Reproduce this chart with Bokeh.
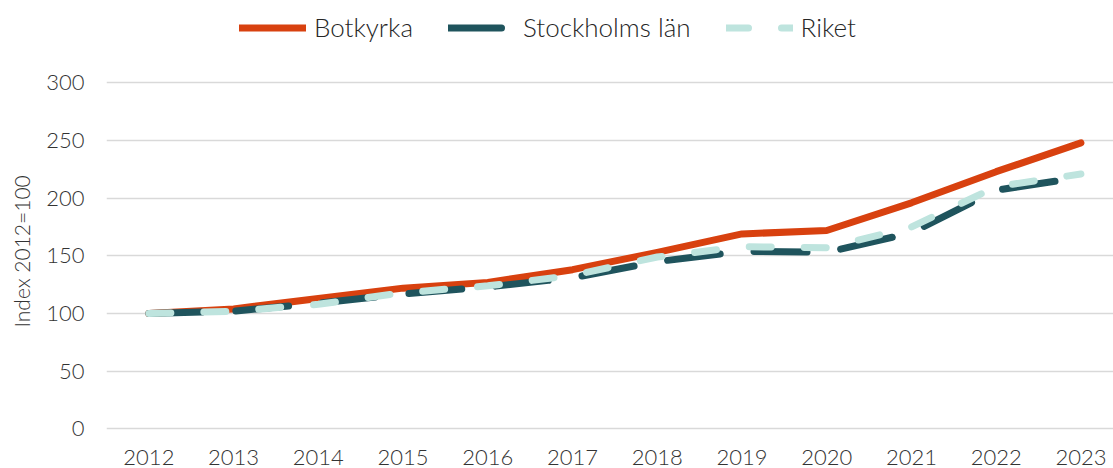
from bokeh.plotting import figure
from bokeh.models import Range1d, FixedTicker, Legend, LegendItem, ColumnDataSource, Title
from bokeh.core.properties import value
from bokeh.embed import file_html
from bokeh.resources import INLINE

years = [2012, 2013, 2014, 2015, 2016, 2017, 2018, 2019, 2020, 2021, 2022, 2023]
botkyrka = [100, 104, 113, 122, 127, 138, 153, 169, 172, 196, 223, 248]
stockholms_lan = [100, 102, 109, 117, 123, 131, 145, 154, 153, 170, 207, 218]
riket = [100, 102, 108, 118, 124, 133, 149, 158, 157, 175, 210, 221]
year_labels = [str(y) for y in years]
y_ticks = [0, 50, 100, 150, 200, 250, 300]
series_names = ["Botkyrka", "Stockholms län", "Riket"]
y_label = "Index 2012=100"

c_bot = "#D8410F"
c_sth = "#1F545D"
c_rik = "#BEE4DE"
grid_c = "#D9D9D9"
txt_c = "#333333"
FONT = "Lato Light, Lato"

# layout (pixels)
W, H = 1113, 468
frame_left = 104
y0_px, y300_px = 428.3, 82.4          # screen rows of the 0 and 300 gridlines
px_per_unit = (y0_px - y300_px) / 300.0
step_px = 84.9                        # pixel distance between years
label_row = 456.5                     # screen row of year labels

x_start = 2011.5
x_end = x_start + (W - frame_left) / step_px
y_end = 300 + y300_px / px_per_unit
y_start = -(H - y0_px) / px_per_unit
year_label_y = (y0_px - label_row) / px_per_unit

src = ColumnDataSource(dict(year=years, bot=botkyrka, sth=stockholms_lan, rik=riket,
                            lab=year_labels, laby=[year_label_y] * len(years)))

p = figure(width=W, height=H, output_backend="svg", toolbar_location=None,
           x_range=Range1d(x_start, x_end), y_range=Range1d(y_start, y_end),
           x_axis_location=None,
           min_border_left=frame_left, min_border_right=0, min_border_top=0,
           min_border_bottom=0)
p.outline_line_color = None
p.background_fill_color = "white"
p.border_fill_color = "white"

p.xgrid.visible = False
p.ygrid.ticker = FixedTicker(ticks=y_ticks)
p.ygrid.grid_line_color = grid_c
p.ygrid.grid_line_width = 1.5

ax = p.yaxis[0]
ax.ticker = FixedTicker(ticks=y_ticks)
ax.axis_line_color = None
ax.major_tick_line_color = None
ax.minor_tick_line_color = None
ax.major_tick_in = 0
ax.major_tick_out = 0
ax.minor_tick_in = 0
ax.minor_tick_out = 0
ax.major_label_text_font = FONT
ax.major_label_text_font_size = "22px"
ax.major_label_text_color = txt_c
ax.major_label_standoff = 22

ttl = Title(text=y_label, align="left", vertical_align="top", offset=141,
            standoff=16, text_font=FONT, text_font_size="21px",
            text_font_style="normal", text_color=txt_c)
p.add_layout(ttl, "left")

r_bot = p.line("year", "bot", source=src, line_width=7, line_color=c_bot,
               line_cap="round", line_join="round")
r_sth = p.line("year", "sth", source=src, line_width=7, line_color=c_sth,
               line_cap="round", line_join="round", line_dash="53 34")
r_rik = p.line("year", "rik", source=src, line_width=7, line_color=c_rik,
               line_cap="round", line_join="round", line_dash="22 33")

p.text("year", "laby", text="lab", source=src, text_align="center",
       text_baseline="middle", text_font=value(FONT), text_font_size="22px",
       text_color=txt_c)

legend = Legend(items=[LegendItem(label=series_names[0], renderers=[r_bot]),
                       LegendItem(label=series_names[1], renderers=[r_sth]),
                       LegendItem(label=series_names[2], renderers=[r_rik])],
                orientation="horizontal", location=(133, 425),
                padding=0, margin=0, spacing=35, label_standoff=8,
                glyph_width=67, glyph_height=31, label_height=31,
                background_fill_alpha=0, border_line_color=None,
                label_text_font=FONT, label_text_font_size="26px",
                label_text_color="#262626")
p.add_layout(legend)

open("out.html", "w").write(file_html(p, INLINE))
